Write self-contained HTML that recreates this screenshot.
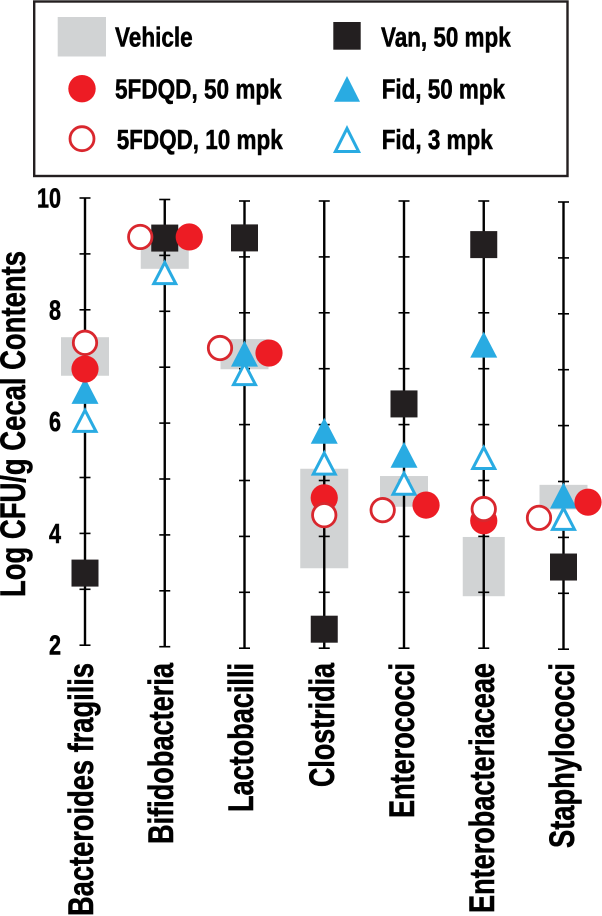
<!DOCTYPE html>
<html lang="en">
<head>
<meta charset="utf-8">
<title>Log CFU/g Cecal Contents</title>
<style>
html,body{margin:0;padding:0;background:#fff;}
svg{display:block;}
text{font-family:"Liberation Sans",Arial,sans-serif;font-weight:700;fill:#000;stroke:#000;stroke-width:0.55px;}
</style>
</head>
<body>
<svg id="chart" xmlns="http://www.w3.org/2000/svg" width="602" height="916" viewBox="0 0 602 916">
  <rect width="602" height="916" fill="#fff"/>

  <g>
    <rect x="34.2" y="1.5" width="533.3" height="174.5" fill="#fff" stroke="#231f20" stroke-width="2.4"/>
    <rect x="57.7" y="17" width="48.3" height="39.5" fill="#d1d3d4"/>
    <circle cx="82" cy="88.7" r="13.7" fill="#ed1c24"/>
    <circle cx="82" cy="138.7" r="12" fill="#fff" stroke="#d9272e" stroke-width="2.8"/>
    <rect x="333.3" y="22" width="27.4" height="27.7" fill="#231f20"/>
    <polygon points="347,76 360,101.7 334,101.7" fill="#29abe2"/>
    <polygon points="347,128.4 358.6,151.5 335.4,151.5" fill="#fff" stroke="#29abe2" stroke-width="3"/>
    <text x="115" y="46.7" font-size="28" textLength="77.7" lengthAdjust="spacingAndGlyphs">Vehicle</text>
    <text x="115" y="98.7" font-size="28" textLength="166.7" lengthAdjust="spacingAndGlyphs">5FDQD, 50 mpk</text>
    <text x="116.7" y="149" font-size="28" textLength="166" lengthAdjust="spacingAndGlyphs">5FDQD, 10 mpk</text>
    <text x="381" y="46.7" font-size="28" textLength="129.7" lengthAdjust="spacingAndGlyphs">Van, 50 mpk</text>
    <text x="381.7" y="98.7" font-size="28" textLength="123.3" lengthAdjust="spacingAndGlyphs">Fid, 50 mpk</text>
    <text x="381.7" y="149" font-size="28" textLength="111" lengthAdjust="spacingAndGlyphs">Fid, 3 mpk</text>
  </g>

  <text transform="translate(25,597) rotate(-90)" font-size="35" textLength="346" lengthAdjust="spacingAndGlyphs">Log CFU/g Cecal Contents</text>

  <g id="bands"></g>
  <g id="axes"></g>
  <g id="y-labels"></g>
  <g id="markers"></g>

  <g>
    <text transform="translate(93,916) rotate(-90)" font-size="35" textLength="253" lengthAdjust="spacingAndGlyphs">Bacteroides fragilis</text>
    <text transform="translate(173,844) rotate(-90)" font-size="35" textLength="181" lengthAdjust="spacingAndGlyphs">Bifidobacteria</text>
    <text transform="translate(253,812) rotate(-90)" font-size="35" textLength="149" lengthAdjust="spacingAndGlyphs">Lactobacilli</text>
    <text transform="translate(334,787) rotate(-90)" font-size="35" textLength="124" lengthAdjust="spacingAndGlyphs">Clostridia</text>
    <text transform="translate(414,818) rotate(-90)" font-size="35" textLength="155" lengthAdjust="spacingAndGlyphs">Enterococci</text>
    <text transform="translate(494,913) rotate(-90)" font-size="35" textLength="250" lengthAdjust="spacingAndGlyphs">Enterobacteriaceae</text>
    <text transform="translate(574,848) rotate(-90)" font-size="35" textLength="185" lengthAdjust="spacingAndGlyphs">Staphylococci</text>
  </g>
</svg>

<script>
const categories = ['bacteroides-fragilis', 'bifidobacteria', 'lactobacilli', 'clostridia', 'enterococci', 'enterobacteriaceae', 'staphylococci'];
const yTicks = [2, 3, 4, 5, 6, 7, 8, 9, 10];
const yTickLabels = [2, 4, 6, 8, 10];
const vehicleLow = [6.82, 8.76, 6.99, 3.43, 4.53, 2.93, 4.50];
const vehicleHigh = [7.51, 9.30, 7.53, 5.21, 5.08, 3.99, 4.94];
const van50 = [3.29, 9.31, 9.34, 2.34, 6.37, 9.22, 3.47];
const fid50 = [6.55, null, 7.27, 5.89, 5.46, 7.43, 4.75];
const fid3 = [6.03, 8.70, 6.92, 5.32, 4.96, 5.42, 4.35];
const fdqd50 = [6.94, 9.33, 7.28, 4.69, 4.56, 4.28, 4.63];
const fdqd10 = [7.41, 9.33, 7.37, 4.38, 4.47, 4.49, 4.35];
const dodgeFdqd50 = [0, 1, 1, 0, 0.9, 0, 1];
const dodgeFdqd10 = [0, -1, -1, 0, -0.87, 0, -1];

const NS = 'http://www.w3.org/2000/svg';
const UNIT = 55.9;
const DODGE = 24.5;
const RED = '#ed1c24';
const OPEN_RED = '#d9272e';
const BLUE = '#29abe2';
const BLACK = '#231f20';
const GREY = '#d1d3d4';

function xScale(i) { return 85 + i * 79.75; }
function axisTop(i) { return Math.min(198 + 1.5 * i, 201) + (i === 6 ? 1 : 0); }
function yScale(v, i) { return axisTop(i) + (10 - v) * UNIT; }
function bandWidth(i) { return i === 5 ? 42 : 48; }

function make(tag, attrs) {
  const el = document.createElementNS(NS, tag);
  for (const k in attrs) el.setAttribute(k, attrs[k]);
  return el;
}

const bandsG = document.getElementById('bands');
const axesG = document.getElementById('axes');
const labelsG = document.getElementById('y-labels');
const markersG = document.getElementById('markers');

categories.forEach(function (cat, i) {
  const x = xScale(i);
  const yHigh = yScale(vehicleHigh[i], i);
  const yLow = yScale(vehicleLow[i], i);
  const band = make('rect', { x: x - bandWidth(i) / 2, y: yHigh, width: bandWidth(i), height: yLow - yHigh, fill: GREY });
  
  
  bandsG.appendChild(band);

  const line = make('line', { x1: x, x2: x, y1: yScale(10, i), y2: yScale(2, i), stroke: '#000', 'stroke-width': 2.4 });
  
  
  axesG.appendChild(line);

  yTicks.forEach(function (t) {
    const tick = make('line', { x1: x - 5.5, x2: x + 5.5, y1: yScale(t, i), y2: yScale(t, i), stroke: '#000', 'stroke-width': 1.6 });
    
    
    axesG.appendChild(tick);
  });
});

yTickLabels.forEach(function (t) {
  const s = String(t);
  const label = make('text', { x: 61 - 12 * s.length, y: yScale(t, 0) + 9.5, 'font-size': 28, textLength: 12 * s.length, lengthAdjust: 'spacingAndGlyphs' });
  label.textContent = s;
  
  
  labelsG.appendChild(label);
});

function drawSquare(series, name) {
  series.forEach(function (v, i) {
    if (v === null) return;
    const m = make('rect', { x: xScale(i) - 13.5, y: yScale(v, i) - 13.5, width: 27, height: 27, fill: BLACK });
    
    
    markersG.appendChild(m);
  });
}

function drawFilledTriangle(series, name) {
  series.forEach(function (v, i) {
    if (v === null) return;
    const x = xScale(i), y = yScale(v, i);
    const m = make('polygon', { points: x + ',' + (y - 13) + ' ' + (x + 13.5) + ',' + (y + 13) + ' ' + (x - 13.5) + ',' + (y + 13), fill: BLUE });
    
    
    markersG.appendChild(m);
  });
}

function drawOpenTriangle(series, name) {
  series.forEach(function (v, i) {
    if (v === null) return;
    const x = xScale(i), y = yScale(v, i);
    const m = make('polygon', { points: x + ',' + (y - 9.7) + ' ' + (x + 11) + ',' + (y + 11.5) + ' ' + (x - 11) + ',' + (y + 11.5), fill: '#fff', stroke: BLUE, 'stroke-width': 3 });
    
    
    markersG.appendChild(m);
  });
}

function drawFilledCircle(series, dodge, name) {
  series.forEach(function (v, i) {
    if (v === null) return;
    const m = make('circle', { cx: xScale(i) + dodge[i] * DODGE, cy: yScale(v, i), r: 13.6, fill: RED });
    
    
    markersG.appendChild(m);
  });
}

function drawOpenCircle(series, dodge, name) {
  series.forEach(function (v, i) {
    if (v === null) return;
    const m = make('circle', { cx: xScale(i) + dodge[i] * DODGE, cy: yScale(v, i), r: 11.7, fill: '#fff', stroke: OPEN_RED, 'stroke-width': 2.8 });
    
    
    markersG.appendChild(m);
  });
}

drawSquare(van50, 'van-50-marker');
drawFilledTriangle(fid50, 'fid-50-marker');
drawOpenTriangle(fid3, 'fid-3-marker');
drawFilledCircle(fdqd50, dodgeFdqd50, 'fdqd-50-marker');
drawOpenCircle(fdqd10, dodgeFdqd10, 'fdqd-10-marker');
</script>
</body>
</html>
